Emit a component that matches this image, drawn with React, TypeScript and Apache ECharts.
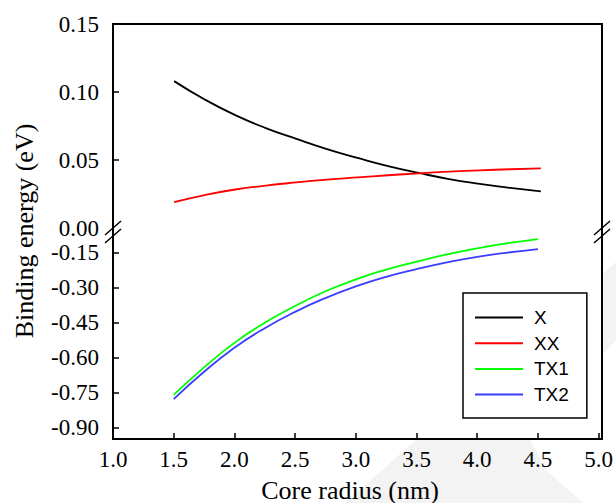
import React, { useEffect, useRef } from "react";
import * as echarts from "echarts";

const radius = [1.5, 1.75, 2.0, 2.25, 2.5, 2.75, 3.0, 3.25, 3.5, 3.75, 4.0, 4.25, 4.5];
const seriesNames = ["X", "XX", "TX1", "TX2"];
const xValues = [0.108, 0.0945, 0.083, 0.0735, 0.0655, 0.058, 0.0515, 0.0455, 0.0405, 0.036, 0.0325, 0.0295, 0.027];
const xxValues = [0.019, 0.0242, 0.0283, 0.0312, 0.0335, 0.0355, 0.0372, 0.0388, 0.0402, 0.0414, 0.0424, 0.0432, 0.0438];
const tx1Values = [-0.761, -0.643, -0.538, -0.452, -0.38, -0.317, -0.266, -0.224, -0.19, -0.159, -0.133, -0.111, -0.093];
const tx2Values = [-0.779, -0.662, -0.559, -0.475, -0.405, -0.346, -0.296, -0.255, -0.222, -0.193, -0.169, -0.151, -0.136];
const colors = ["#000000", "#ff0000", "#00ff00", "#3c3cff"];
const topTicks = [0, 0.05, 0.1, 0.15];
const bottomTicks = [-0.15, -0.3, -0.45, -0.6, -0.75, -0.9];

const SERIF = "Liberation Serif";
const SANS = "Liberation Sans";

export default function App() {
  const ref = useRef<HTMLDivElement>(null);
  useEffect(() => {
    document.body.style.margin = "0";
    const chart = echarts.init(ref.current!, null, { renderer: "svg" });
    const pairs = (vals: number[]) => radius.map((r, i) => [r, vals[i]]);
    const L = 113, R = 602, T = 24, B = 439;
    const tickStyle = { inside: true, length: 6, lineStyle: { color: "#000", width: 1.5 } };
    const slash = (x: number, y: number) => ({
      type: "line",
      shape: { x1: x - 8, y1: y + 7, x2: x + 8, y2: y - 7 },
      style: { stroke: "#000", lineWidth: 1.5 },
      z: 20,
    });
    chart.setOption({
      animation: false,
      backgroundColor: "#fff",
      textStyle: { fontFamily: SERIF },
      grid: [
        { left: L, right: 616 - R, top: T, height: 204 },
        { left: L, right: 616 - R, top: 229, height: 210 },
      ],
      xAxis: [
        { type: "value", gridIndex: 0, min: 1, max: 5, interval: 0.5, show: false },
        {
          type: "value", gridIndex: 1, min: 1, max: 5, interval: 0.5,
          axisLine: { show: false },
          splitLine: { show: false },
          axisTick: tickStyle,
          axisLabel: {
            fontFamily: SERIF, fontSize: 23, color: "#000", margin: 9,
            formatter: (v: number) => v.toFixed(1),
          },
        },
      ],
      yAxis: [
        {
          type: "value", gridIndex: 0, min: 0, max: 0.15, interval: 0.05,
          axisLine: { show: false },
          splitLine: { show: false },
          axisTick: { ...tickStyle, customValues: [0.05, 0.1] },
          axisLabel: {
            fontFamily: SERIF, fontSize: 23, color: "#000", margin: 14,
            customValues: topTicks, formatter: (v: number) => v.toFixed(2),
          },
        },
        {
          type: "value", gridIndex: 1, min: -0.95, max: -0.05,
          axisLine: { show: false },
          splitLine: { show: false },
          axisTick: { ...tickStyle, customValues: bottomTicks },
          axisLabel: {
            fontFamily: SERIF, fontSize: 23, color: "#000", margin: 14,
            customValues: bottomTicks, formatter: (v: number) => v.toFixed(2),
          },
        },
      ],
      legend: {
        orient: "vertical",
        left: 463,
        top: 293,
        padding: [15, 18, 14, 12],
        icon: "rect",
        itemWidth: 48,
        itemHeight: 2,
        itemGap: 6.7,
        borderColor: "#000",
        borderWidth: 1.5,
        backgroundColor: "#fff",
        data: seriesNames,
        textStyle: { fontFamily: SANS, fontSize: 19, color: "#000", padding: [0, 0, 0, 6] },
      },
      graphic: [
        {
          type: "polygon",
          shape: { points: [[345, 503], [616, 262], [616, 340], [560, 400], [530, 440], [548, 472], [583, 503]] },
          style: { fill: "#f3f3f3" },
          z: -10,
        },
        {
          type: "rect",
          shape: { x: L, y: T, width: R - L, height: B - T },
          style: { fill: "#fff" },
          z: -9,
        },
        {
          type: "rect",
          shape: { x: L, y: T, width: R - L, height: B - T },
          style: { fill: "none", stroke: "#000", lineWidth: 2 },
          z: 10,
        },
        slash(L, 228), slash(L, 236),
        slash(R, 228), slash(R, 236),
        {
          type: "text",
          x: 24, y: 231,
          rotation: Math.PI / 2,
          style: { text: "Binding energy (eV)", fontFamily: SERIF, fontSize: 26, fill: "#000", textAlign: "center", textVerticalAlign: "middle" },
        },
        {
          type: "text",
          x: 350, y: 490,
          style: { text: "Core radius (nm)", fontFamily: SERIF, fontSize: 26, fill: "#000", textAlign: "center", textVerticalAlign: "middle" },
        },
      ],
      series: [
        { name: "X", type: "line", xAxisIndex: 0, yAxisIndex: 0, data: pairs(xValues) },
        { name: "XX", type: "line", xAxisIndex: 0, yAxisIndex: 0, data: pairs(xxValues) },
        { name: "TX1", type: "line", xAxisIndex: 1, yAxisIndex: 1, data: pairs(tx1Values) },
        { name: "TX2", type: "line", xAxisIndex: 1, yAxisIndex: 1, data: pairs(tx2Values) },
      ].map((s, i) => ({
        ...s,
        symbol: "none",
        smooth: true,
        color: colors[i],
        lineStyle: { color: colors[i], width: 1.8 },
      })),
    });
    return () => chart.dispose();
  }, []);
  return <div ref={ref} style={{ width: 616, height: 503 }} />;
}
